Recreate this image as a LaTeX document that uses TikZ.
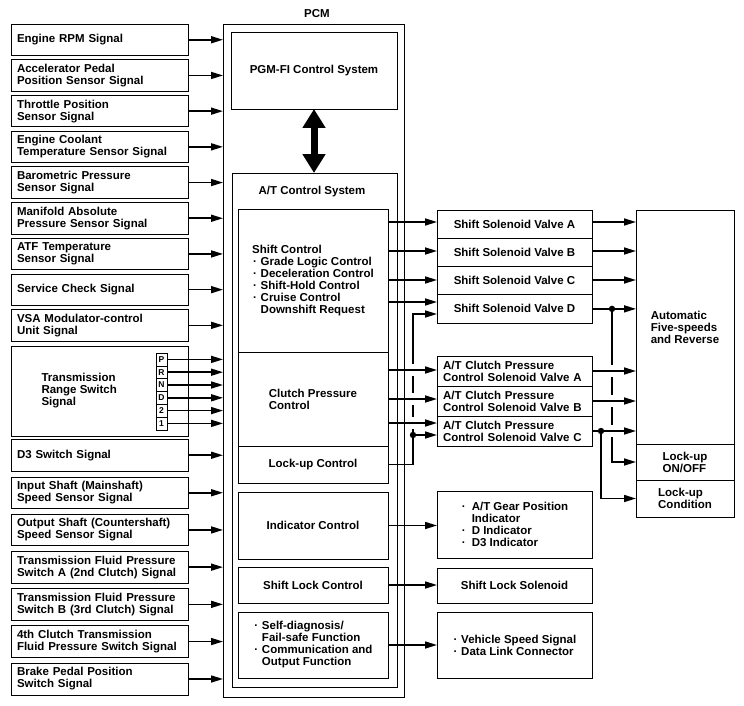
\documentclass[tikz,border=0pt]{standalone}
\usepackage{fontspec}
\setmainfont{Liberation Sans}
\usetikzlibrary{arrows.meta,calc}
\newcommand\mybul[1][8.5pt]{\makebox[#1][l]{\hspace*{1pt}·}}
\newcommand\myind[1][8.5pt]{\hspace*{#1}}
\begin{document}
\begin{tikzpicture}[x=1pt,y=-1pt,
  every node/.style={font=\fontsize{11.5}{12}\selectfont\bfseries, inner sep=0pt, outer sep=0pt},
  box/.style={draw, line width=0.8pt, anchor=north west},
  inbox/.style={box, text width=165pt, inner xsep=6pt, minimum height=31.5pt, align=left},
  lbox/.style={draw, line width=0.6pt, anchor=north west, minimum width=11pt, minimum height=12.8pt, font=\fontsize{8.5}{9}\selectfont\bfseries},
  cbox/.style={box, minimum width=150pt},
  rbox/.style={box, minimum width=155pt},
  arr/.style={line width=1.6pt, -{Triangle[length=12pt,width=7pt]}},
  gap/.style={fill=white}]
\useasboundingbox (0,0) rectangle (744,706);

% ---- left input boxes
\node[inbox] (L1) at (11,24) {Engine RPM Signal};
\node[inbox] (L2) at (11,59.7) {Accelerator Pedal\\Position Sensor Signal};
\node[inbox] (L3) at (11,95.4) {Throttle Position\\Sensor Signal};
\node[inbox] (L4) at (11,131.1) {Engine Coolant\\Temperature Sensor Signal};
\node[inbox] (L5) at (11,166.8) {Barometric Pressure\\Sensor Signal};
\node[inbox] (L6) at (11,202.5) {Manifold Absolute\\Pressure Sensor Signal};
\node[inbox] (L7) at (11,238.2) {ATF Temperature\\Sensor Signal};
\node[inbox] (L8) at (11,273.9) {Service Check Signal};
\node[inbox] (L9) at (11,309.6) {VSA Modulator-control\\Unit Signal};
\node[box, minimum width=177pt, minimum height=90pt] (TR) at (11,346) {};
\node[anchor=west, align=left] (TRt) at (41.5,391) {Transmission\\Range Switch\\Signal};
\node[inbox] (L10) at (11,439.5) {D3 Switch Signal};
\node[inbox] (L11) at (11,477) {Input Shaft (Mainshaft)\\Speed Sensor Signal};
\node[inbox] (L12) at (11,514.2) {Output Shaft (Countershaft)\\Speed Sensor Signal};
\node[inbox] (L13) at (11,551.4) {Transmission Fluid Pressure\\Switch A (2nd Clutch) Signal};
\node[inbox] (L14) at (11,588.6) {Transmission Fluid Pressure\\Switch B (3rd Clutch) Signal};
\node[inbox] (L15) at (11,625.8) {4th Clutch Transmission\\Fluid Pressure Switch Signal};
\node[inbox, minimum height=32pt] (L16) at (11,663) {Brake Pedal Position\\Switch Signal};

\foreach \l [count=\i from 0] in {P,R,N,D,2,1}
  \node[lbox] (K\i) at (156,{353+12.8*\i}) {\l};

% ---- PCM
\node[box, minimum width=181pt, minimum height=673pt] (PCM) at (223,24) {};
\node (PCMt) at (317,14) {PCM};
\node[box, minimum width=166pt, minimum height=77pt] (PGM) at (231,32) {PGM-FI Control System};
\node[box, minimum width=165pt, minimum height=514pt] (AT) at (232,173) {};
\node (ATt) at (312,192) {A/T Control System};

\node[cbox, minimum height=143pt, align=left] (SCtl) at (238,209)
  {Shift Control\\\mybul Grade Logic Control\\\mybul Deceleration Control\\\mybul Shift-Hold Control\\\mybul Cruise Control\\\myind Downshift Request};
\node[cbox, minimum height=94pt, align=left] (CPC) at (238,352) {Clutch Pressure\\Control};
\node[cbox, minimum height=37pt] (LUC) at (238,446) {Lock-up Control};
\node[cbox, minimum height=67pt] (INDC) at (238,492) {Indicator Control};
\node[cbox, minimum height=36pt] (SLC) at (238,567) {Shift Lock Control};
\node[cbox, minimum height=66pt, align=left] (SDC) at (238,612)
  {\mybul Self-diagnosis/\\\myind Fail-safe Function\\\mybul Communication and\\\myind Output Function};

% ---- right boxes
\node[rbox, minimum height=28.25pt] (SA) at (437,210) {Shift Solenoid Valve A};
\node[rbox, minimum height=28.25pt] (SB) at (437,238.25) {Shift Solenoid Valve B};
\node[rbox, minimum height=28.25pt] (SC) at (437,266.5) {Shift Solenoid Valve C};
\node[rbox, minimum height=28.25pt] (SD) at (437,294.75) {Shift Solenoid Valve D};
\node[rbox, minimum height=30pt, text width=143pt, inner xsep=6pt, align=left] (CA) at (437,356) {A/T Clutch Pressure\\Control Solenoid Valve A};
\node[rbox, minimum height=30pt, text width=143pt, inner xsep=6pt, align=left] (CB) at (437,386) {A/T Clutch Pressure\\Control Solenoid Valve B};
\node[rbox, minimum height=30pt, text width=143pt, inner xsep=6pt, align=left] (CC) at (437,416) {A/T Clutch Pressure\\Control Solenoid Valve C};
\node[rbox, minimum height=67pt, align=left] (IND) at (437,491)
  {\mybul[11pt]A/T Gear Position\\\myind[11pt]Indicator\\\mybul[11pt]D Indicator\\\mybul[11pt]D3 Indicator};
\node[rbox, minimum height=35pt] (SLS) at (437,568) {Shift Lock Solenoid};
\node[rbox, minimum height=66pt, align=left] (VSS) at (437,612)
  {\mybul Vehicle Speed Signal\\\mybul Data Link Connector};

\node[box, minimum width=98pt, minimum height=234pt, align=left] (AUTO) at (636,210) {Automatic\\Five-speeds\\and Reverse};
\node[box, minimum width=98pt, minimum height=36pt, align=left] (LON) at (636,444) {Lock-up\\ON/OFF};
\node[box, minimum width=98pt, minimum height=37pt, align=left] (LCOND) at (636,480) {Lock-up\\Condition};

% ---- inputs to PCM
\foreach \n in {L1,L2,L3,L4,L5,L6,L7,L8,L9,L10,L11,L12,L13,L14,L15,L16}
  \draw[arr] (\n.east) -- (\n.east -| PCM.west);
\foreach \i in {0,...,5}
  \draw[arr] (K\i.east) -- (K\i.east -| PCM.west);

% ---- PGM-FI <-> A/T
\draw[line width=7pt, {Triangle[length=19pt,width=22pt]}-{Triangle[length=19pt,width=22pt]}]
  (PGM.south) -- (PGM.south |- AT.north);

% ---- junctions
\coordinate (J1) at (413,435);
\coordinate (J2) at (SD.east -| 612,0);
\coordinate (J3) at (CC.east -| 601,0);

% vertical runs first
\draw[arr] (LUC.east) -| (J1) |- (SD.west |- 0,314);
\draw[arr] (J2) |- (LON.west);
\draw[arr] (J3) |- (LCOND.west);

% bridges (gaps) where horizontal arrows cross
\foreach \y in {370,399,423}
  \fill[gap] (410,\y-6) rectangle (416,\y+6);
\foreach \n in {CA,CB,CC}
  \fill[gap] ($(\n.east -| 609,0)+(0,-6)$) rectangle ($(\n.east -| 615,0)+(0,6)$);

% ---- shift control outputs
\draw[arr] (SCtl.east |- 0,222) -- (SA.west |- 0,222);
\draw[arr] (SCtl.east |- 0,251) -- (SB.west |- 0,251);
\draw[arr] (SCtl.east |- 0,280) -- (SC.west |- 0,280);
\draw[arr] (SCtl.east |- 0,302) -- (SD.west |- 0,302);
% clutch pressure outputs
\draw[arr] (CPC.east |- 0,370) -- (CA.west |- 0,370);
\draw[arr] (CPC.east |- 0,399) -- (CB.west |- 0,399);
\draw[arr] (CPC.east |- 0,423) -- (CC.west |- 0,423);
\draw[arr] (J1) -- (CC.west |- J1);
% other outputs
\draw[arr] (INDC.east) -- (IND.west |- INDC.east);
\draw[arr] (SLC.east) -- (SLS.west |- SLC.east);
\draw[arr] (SDC.east) -- (VSS.west |- SDC.east);

% ---- solenoids to transmission
\draw[arr] (SA.east |- 0,222) -- (AUTO.west |- 0,222);
\draw[arr] (SB.east |- 0,251) -- (AUTO.west |- 0,251);
\draw[arr] (SC.east |- 0,280) -- (AUTO.west |- 0,280);
\draw[arr] (SD.east) -- (AUTO.west |- SD.east);
\draw[arr] (CA.east) -- (AUTO.west |- CA.east);
\draw[arr] (CB.east) -- (AUTO.west |- CB.east);
\draw[arr] (CC.east) -- (AUTO.west |- CC.east);

\fill (J1) circle (3.2pt);
\fill (J2) circle (3.2pt);
\fill (J3) circle (3.2pt);
\end{tikzpicture}
\end{document}
